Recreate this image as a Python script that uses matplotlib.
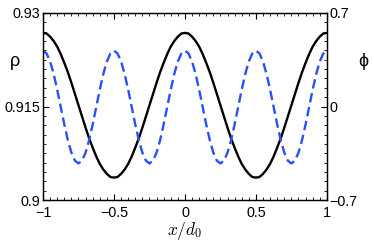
import matplotlib
matplotlib.use("Agg")
import matplotlib.pyplot as plt
from matplotlib.ticker import MultipleLocator

plt.rcParams['font.family'] = ['Liberation Sans', 'DejaVu Sans']
plt.rcParams['mathtext.fontset'] = 'cm'

# half-period samples (x = 0 .. 0.5, step 0.025)
x_half = [0.0, 0.025, 0.05, 0.075, 0.1, 0.125, 0.15, 0.175, 0.2, 0.225, 0.25,
          0.275, 0.3, 0.325, 0.35, 0.375, 0.4, 0.425, 0.45, 0.475, 0.5]
rho_half = [0.9268, 0.9267, 0.9262, 0.9255, 0.9246, 0.9234, 0.9220, 0.9205, 0.9188, 0.9170, 0.9152,
            0.9134, 0.9116, 0.9099, 0.9084, 0.9070, 0.9058, 0.9049, 0.9042, 0.9037, 0.9036]
phi_half = [0.418, 0.397, 0.337, 0.244, 0.126, -0.004, -0.134, -0.252, -0.345, -0.405, -0.426,
            -0.405, -0.345, -0.252, -0.134, -0.004, 0.126, 0.244, 0.337, 0.397, 0.418]

# full x range -1..1 built by mirroring/repeating the read samples
x_vals = []
rho_vals = []
phi_vals = []
for shift in (-1.0, -0.5, 0.0, 0.5):
    xs = [shift + v for v in x_half]
    if shift in (-1.0, 0.0):
        rs = rho_half
        ps = phi_half
    else:
        rs = rho_half[::-1]
        ps = phi_half[::-1]
    if x_vals:
        xs, rs, ps = xs[1:], rs[1:], ps[1:]
    x_vals += xs
    rho_vals += rs
    phi_vals += ps

rho_ticks = [0.9, 0.915, 0.93]
rho_ticklabels = ["0.9", "0.915", "0.93"]
phi_ticks = [-0.7, 0, 0.7]
phi_ticklabels = ["\u22120.7", "0", "0.7"]
x_ticks = [-1, -0.5, 0, 0.5, 1]
x_ticklabels = ["\u22121", "\u22120.5", "0", "0.5", "1"]

fig = plt.figure(figsize=(3.74, 2.44), dpi=100)
ax = fig.add_axes([0.115, 0.180, 0.759, 0.767])
ax2 = ax.twinx()

ax.plot(x_vals, rho_vals, color='black', lw=1.7, zorder=3)
ax2.plot(x_vals, phi_vals, color='#2a50f8', lw=1.7, dashes=(4, 2))

ax.set_xlim(-1, 1)
ax.set_ylim(0.9, 0.93)
ax2.set_ylim(-0.7, 0.7)

ax.set_xticks(x_ticks)
ax.set_xticklabels(x_ticklabels)
ax.xaxis.set_minor_locator(MultipleLocator(0.05))
ax.set_yticks(rho_ticks)
ax.set_yticklabels(rho_ticklabels)
ax.yaxis.set_minor_locator(MultipleLocator(0.0015))
ax2.set_yticks(phi_ticks)
ax2.set_yticklabels(phi_ticklabels)
ax2.yaxis.set_minor_locator(MultipleLocator(0.07))

ax.tick_params(which='both', direction='in', top=True, labelsize=10.4)
ax.tick_params(axis='y', pad=2)
ax.tick_params(axis='x', pad=4)
ax.tick_params(which='major', length=4, width=0.8)
ax.tick_params(which='minor', length=2, width=0.6)
ax2.tick_params(which='both', direction='in', labelsize=10.4, pad=2)
ax2.tick_params(which='major', length=4, width=0.8)
ax2.tick_params(which='minor', length=2, width=0.6)

for a in (ax, ax2):
    for s in a.spines.values():
        s.set_linewidth(0.9)

ax.set_xlabel(r"$x/d_0$", fontsize=12.5, labelpad=0)
fig.text(15/374, 1 - 62/244, "\u03c1", fontsize=13, ha='center', va='center')
fig.text(363/374, 1 - 62/244, "\u03d5", fontsize=13, ha='center', va='center')

fig.savefig("out.png", dpi=100)
